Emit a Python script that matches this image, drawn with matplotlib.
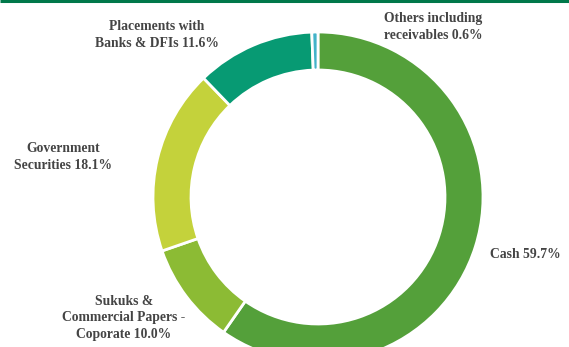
import matplotlib.pyplot as plt

W, H = 569, 347

categories = ["Cash", "Sukuks & Commercial Papers - Coporate", "Government Securities",
              "Placements with Banks & DFIs", "Others including receivables"]
shares = [59.7, 10.0, 18.1, 11.6, 0.6]
colors = ["#54a03a", "#8cbb34", "#c4d23b", "#079a73", "#43b3c9"]

label_texts = [
    "Cash 59.7%",
    "Sukuks &\nCommercial Papers -\nCoporate 10.0%",
    "Government\nSecurities 18.1%",
    "Placements with\nBanks & DFIs 11.6%",
    "Others including\nreceivables 0.6%",
]
# label centres, pixels from the top-left corner
label_pos = [(525, 255), (124, 318), (63, 157), (157, 35), (433, 27)]

fig = plt.figure(figsize=(W / 100, H / 100), dpi=100)
ax = fig.add_axes([0, 0, 1, 1])

# donut ring, clockwise from twelve o'clock
cx, cy, r = 318, 197, 165
ax.pie(shares, colors=colors, startangle=90, counterclock=False,
       center=(cx, H - cy), radius=r,
       wedgeprops=dict(width=38, edgecolor="white", linewidth=2))

ax.set_xlim(0, W)
ax.set_ylim(0, H)
ax.set_aspect("auto")
ax.axis("off")

for txt, (x, y) in zip(label_texts, label_pos):
    ax.text(x, H - y, txt, ha="center", va="center", fontsize=9.8,
            fontweight="bold", family="Liberation Serif", color="#444444",
            linespacing=1.33)

# green rule along the top edge
ax.plot([0, W], [H - 1.2, H - 1.2], color="#00784a", linewidth=2.2,
        solid_capstyle="butt")

fig.savefig("out.png", dpi=100)
